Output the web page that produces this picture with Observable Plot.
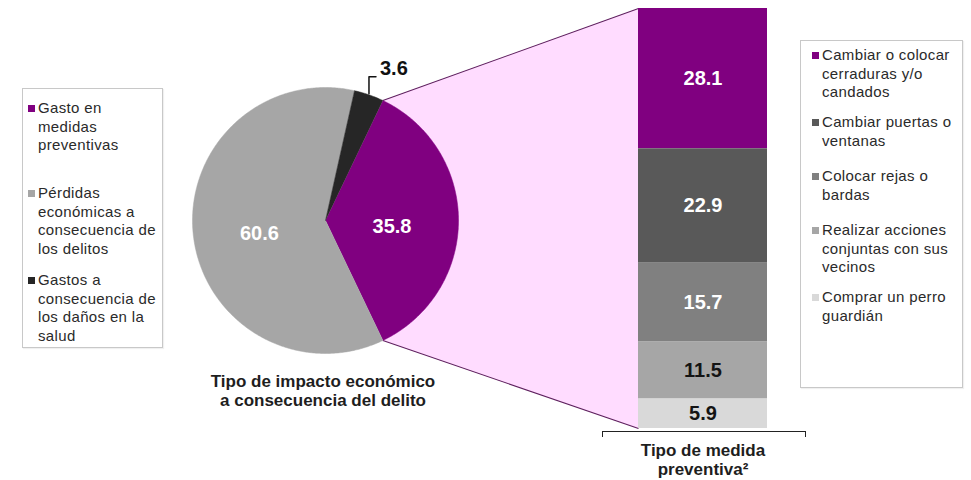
<!DOCTYPE html>
<html><head><meta charset="utf-8">
<script src="https://cdn.jsdelivr.net/npm/d3@7"></script>
<script src="https://cdn.jsdelivr.net/npm/@observablehq/plot@0.6"></script>
<style>
body{margin:0;background:#fff;font-family:"Liberation Sans",Arial,sans-serif;}
#wrap{position:relative;width:971px;height:480px;overflow:hidden;background:#fff;}
#wrap svg{position:absolute;left:0;top:0;}
.legend{position:absolute;border:1px solid #c8c8c8;box-sizing:border-box;box-shadow:1px 1px 1px rgba(0,0,0,0.06);}
.item{position:absolute;font-size:15px;line-height:18.5px;color:#2a2a2a;white-space:nowrap;letter-spacing:0.35px;}
.sw{position:absolute;width:7px;height:7px;}
.title{position:absolute;font-weight:bold;font-size:17px;line-height:18.5px;text-align:center;color:#1e1e1e;transform:translateX(-50%);white-space:nowrap;}
.bracket{position:absolute;border:1.5px solid #222;border-bottom:none;box-sizing:border-box;}
</style></head><body><div id="wrap"></div>
<script>
// ---- data ----
const impactoCategorias = ["Gasto en medidas preventivas", "Pérdidas económicas a consecuencia de los delitos", "Gastos a consecuencia de los daños en la salud"];
const impactoLineas = [["Gasto en", "medidas", "preventivas"], ["Pérdidas", "económicas a", "consecuencia de", "los delitos"], ["Gastos a", "consecuencia de", "los daños en la", "salud"]];
const impactoValores = [35.8, 60.6, 3.6];
const medidaCategorias = ["Cambiar o colocar cerraduras y/o candados", "Cambiar puertas o ventanas", "Colocar rejas o bardas", "Realizar acciones conjuntas con sus vecinos", "Comprar un perro guardián"];
const medidaLineas = [["Cambiar o colocar", "cerraduras y/o", "candados"], ["Cambiar puertas o", "ventanas"], ["Colocar rejas o", "bardas"], ["Realizar acciones", "conjuntas con sus", "vecinos"], ["Comprar un perro", "guardián"]];
const medidaValores = [28.1, 22.9, 15.7, 11.5, 5.9];
const tituloImpacto = ["Tipo de impacto económico", "a consecuencia del delito"];
const tituloMedida = ["Tipo de medida", "preventiva²"];

// ---- styles / layout ----
const impactoColores = ["#800080", "#a6a6a6", "#262626"];
const impactoTexto = ["#ffffff", "#ffffff", "#111111"];
const medidaColores = ["#800080", "#595959", "#808080", "#a6a6a6", "#d9d9d9"];
const medidaTexto = ["#ffffff", "#ffffff", "#ffffff", "#141414", "#141414"];
const leftItemTops = [99, 184, 271];
const rightItemTops = [46, 113, 167, 221, 288];

const wrap = document.getElementById("wrap");
const fmt = v => v.toFixed(1);

// ---- bar (Plot B) ----
const medidas = medidaCategorias.map((c, i) => ({cat: c, value: medidaValores[i], color: medidaColores[i], tcolor: medidaTexto[i]}));
const total = d3.sum(medidaValores);
const barPlot = Plot.plot({
  width: 971, height: 480, margin: 0,
  style: {background: "transparent", overflow: "visible"},
  x: {type: "band", domain: ["medida"], range: [638, 767], padding: 0, axis: null},
  y: {domain: [0, total], range: [8, 428], axis: null},
  color: {type: "identity"},
  marks: [
    Plot.barY(medidas, Plot.stackY({x: () => "medida", y: "value", fill: "color"})),
    Plot.text(medidas, Plot.stackY({x: () => "medida", y: "value", text: d => fmt(d.value), fill: "tcolor", fontSize: 20, fontWeight: "bold", fontFamily: "Liberation Sans, Arial, sans-serif"}))
  ]
});
const ys = barPlot.scale("y"), xs = barPlot.scale("x");
const barLeft = xs.range ? Math.min(...xs.range) : 638;
const barTop = ys.apply ? ys.apply(0) : 8;
const barBottom = ys.apply ? ys.apply(total) : 428;

// ---- pie (Plot A) ----
const cx = 325, cy = 220, r = 133;
const sumImp = d3.sum(impactoValores);
const start = Math.PI / 2 - Math.PI * impactoValores[0] / sumImp;
const arcs = d3.pie().sort(null).startAngle(start).endAngle(start + 2 * Math.PI)(impactoValores);
const pt = (a, rr) => ({x: cx + rr * Math.sin(a), y: cy - rr * Math.cos(a)});
const sliceRows = [];
arcs.forEach((a, i) => {
  sliceRows.push({slice: i, color: impactoColores[i], ...pt(0, 0)});
  const n = Math.max(2, Math.ceil((a.endAngle - a.startAngle) / 0.01));
  for (let k = 0; k <= n; k++) {
    const ang = a.startAngle + (a.endAngle - a.startAngle) * k / n;
    sliceRows.push({slice: i, color: impactoColores[i], ...pt(ang, r)});
  }
});
const p0 = pt(arcs[0].startAngle, r), p1 = pt(arcs[0].endAngle, r);
const connector = [p0, {x: barLeft, y: barTop}, {x: barLeft, y: barBottom}, p1];
const mid = a => (a.startAngle + a.endAngle) / 2;
const bigLabels = arcs.slice(0, 2).map((a, i) => ({...pt(mid(a), r * 0.5), text: fmt(impactoValores[i]), color: impactoTexto[i]}));
const small = arcs[2];
const pe = pt(mid(small), r);
const leader = [{x: pe.x, y: pe.y - 1}, {x: pe.x, y: pe.y - 18}, {x: pe.x + 7, y: pe.y - 18}];

const piePlot = Plot.plot({
  width: 971, height: 480, margin: 0,
  style: {background: "transparent", overflow: "visible"},
  x: {domain: [0, 971], range: [0, 971], axis: null},
  y: {domain: [0, 480], range: [0, 480], axis: null},
  color: {type: "identity"},
  marks: [
    Plot.line(connector, {x: "x", y: "y", fill: "#ffdcff", stroke: "none"}),
    Plot.link([[p0, connector[1]], [p1, connector[2]]], {x1: d => d[0].x, y1: d => d[0].y, x2: d => d[1].x, y2: d => d[1].y, stroke: "#5e1f5e", strokeWidth: 1.1}),
    Plot.line(sliceRows, {x: "x", y: "y", z: "slice", fill: "color", stroke: "color", strokeWidth: 0.5}),
    Plot.text(bigLabels, {x: "x", y: "y", text: "text", fill: "color", fontSize: 20, fontWeight: "bold", dy: 6, fontFamily: "Liberation Sans, Arial, sans-serif"}),
    Plot.line(leader, {x: "x", y: "y", stroke: "#111", strokeWidth: 1.5}),
    Plot.text([{x: pe.x + 11, y: pe.y - 26, text: fmt(impactoValores[2])}], {x: "x", y: "y", text: "text", textAnchor: "start", fill: "#111", fontSize: 20, fontWeight: "bold", fontFamily: "Liberation Sans, Arial, sans-serif"})
  ]
});
wrap.appendChild(piePlot);
wrap.appendChild(barPlot);

// ---- legends ----
function legend(box, lines, colors, tops, swX, txtX) {
  const lg = document.createElement("div");
  lg.className = "legend";
  Object.assign(lg.style, box);
  wrap.appendChild(lg);
  lines.forEach((ls, i) => {
    const sw = document.createElement("div");
    sw.className = "sw";
    sw.style.background = colors[i];
    sw.style.left = swX + "px";
    sw.style.top = (tops[i] + 6) + "px";
    wrap.appendChild(sw);
    const it = document.createElement("div");
    it.className = "item";
    it.style.left = txtX + "px";
    it.style.top = tops[i] + "px";
    it.innerHTML = ls.join("<br>");
    wrap.appendChild(it);
  });
}
legend({left: "22px", top: "88px", width: "141px", height: "260px"}, impactoLineas, impactoColores, leftItemTops, 28, 38);
legend({left: "800px", top: "40px", width: "163px", height: "348px"}, medidaLineas, medidaColores, rightItemTops, 812, 822);

// ---- titles ----
function title(lines, x, top) {
  const t = document.createElement("div");
  t.className = "title";
  t.style.left = x + "px";
  t.style.top = top + "px";
  t.innerHTML = lines.join("<br>");
  wrap.appendChild(t);
}
title(tituloImpacto, 323, 373);
title(tituloMedida, 703, 442);
const br = document.createElement("div");
br.className = "bracket";
Object.assign(br.style, {left: "602px", top: "431px", width: "204px", height: "6px"});
wrap.appendChild(br);
</script></body></html>
